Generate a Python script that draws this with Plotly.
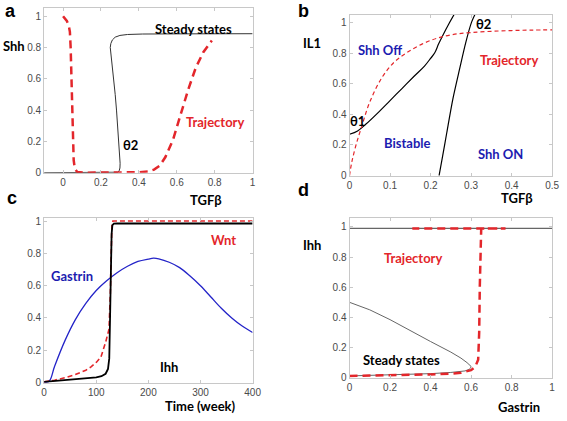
import plotly.graph_objects as go

# ---------------- data ----------------
# Panel a: steady states and trajectory (TGFb vs Shh)
a_ss_tgfb = [-0.1, 0.27, 0.288, 0.296, 0.300, 0.301, 0.299, 0.292, 0.287, 0.282, 0.275, 0.267, 0.259, 0.251, 0.249,
             0.252, 0.26, 0.275, 0.30, 0.34, 0.42, 0.6, 0.8, 1.0]
a_ss_shh = [0.0, 0.0, 0.003, 0.012, 0.03, 0.06, 0.1, 0.2, 0.3, 0.4, 0.5, 0.6, 0.7, 0.78, 0.80,
            0.825, 0.848, 0.866, 0.877, 0.883, 0.886, 0.887, 0.888, 0.888]
a_tr_tgfb = [0.0, 0.02, 0.03, 0.036, 0.04, 0.044, 0.048, 0.052, 0.056, 0.062, 0.075, 0.12, 0.2, 0.3, 0.4, 0.45,
             0.48, 0.51, 0.54, 0.58, 0.62, 0.66, 0.70, 0.74, 0.785]
a_tr_shh = [1.0, 0.97, 0.94, 0.9, 0.8, 0.6, 0.4, 0.2, 0.08, 0.025, 0.005, 0.0, 0.0, 0.0, 0.003, 0.008,
            0.02, 0.045, 0.1, 0.21, 0.37, 0.53, 0.67, 0.77, 0.845]

# Panel b: bifurcation curves (TGFb vs IL1) and trajectory
b_th1_tgfb = [0.0, 0.02, 0.04, 0.07, 0.1, 0.13, 0.16, 0.185, 0.2, 0.21, 0.22, 0.232, 0.245, 0.26]
b_th1_il1 = [0.27, 0.292, 0.335, 0.41, 0.49, 0.57, 0.65, 0.715, 0.765, 0.8, 0.86, 0.925, 0.99, 1.06]
b_th2_tgfb = [0.221, 0.23, 0.24, 0.255, 0.272, 0.287, 0.301, 0.311]
b_th2_il1 = [0.0, 0.13, 0.28, 0.5, 0.7, 0.87, 1.0, 1.06]
b_tr_tgfb = [0.0, 0.005, 0.015, 0.03, 0.05, 0.08, 0.11, 0.14, 0.18, 0.22, 0.26, 0.3, 0.35, 0.4, 0.45, 0.5]
b_tr_il1 = [0.0, 0.08, 0.19, 0.32, 0.48, 0.64, 0.74, 0.80, 0.86, 0.9, 0.923, 0.934, 0.942, 0.947, 0.95, 0.951]

# Panel c: time courses
c_time = [0, 10, 20, 40, 60, 80, 100, 120, 140, 160, 180, 200, 210, 220, 240, 260, 280, 300, 320, 340, 360, 380, 400]
c_gastrin = [0.0, 0.01, 0.1, 0.26, 0.39, 0.49, 0.57, 0.63, 0.68, 0.72, 0.75, 0.765, 0.77, 0.766, 0.745, 0.712,
             0.66, 0.6, 0.53, 0.46, 0.40, 0.35, 0.31]
c_ihh_time = [0, 20, 50, 80, 100, 110, 118, 122.6, 125, 126.5, 128, 129.5, 131, 134, 140, 200, 300, 400]
c_ihh = [0.005, 0.01, 0.016, 0.025, 0.033, 0.04, 0.055, 0.085, 0.15, 0.4, 0.7, 0.92, 0.975, 0.984, 0.985, 0.985, 0.985, 0.985]
c_wnt_time = [0, 20, 40, 60, 80, 90, 100, 109, 118, 124.5, 127, 128.5, 130, 132, 140, 200, 300, 400]
c_wnt = [0.005, 0.015, 0.03, 0.05, 0.077, 0.097, 0.125, 0.158, 0.25, 0.33, 0.55, 0.85, 0.97, 1.0, 1.0, 1.0, 1.0, 1.0]

# Panel d: steady states and trajectory (Gastrin vs Ihh)
d_hi_gastrin = [0.0, 1.0]
d_hi_ihh = [0.99, 0.99]
d_ss_gastrin = [0.0, 0.1, 0.2, 0.3, 0.4, 0.5, 0.55, 0.58, 0.595, 0.6, 0.598, 0.59, 0.57, 0.5, 0.4, 0.3, 0.2, 0.1, 0.0]
d_ss_ihh = [0.5, 0.45, 0.385, 0.31, 0.24, 0.17, 0.13, 0.1, 0.085, 0.075, 0.065, 0.055, 0.045, 0.035, 0.027,
            0.022, 0.018, 0.015, 0.012]
d_tr_gastrin = [0.0, 0.1, 0.2, 0.3, 0.4, 0.5, 0.55, 0.6, 0.62, 0.635, 0.64, 0.643, 0.646, 0.65, 0.7, 0.77,
                0.7, 0.6, 0.5, 0.4, 0.31]
d_tr_ihh = [0.012, 0.014, 0.016, 0.019, 0.022, 0.027, 0.033, 0.05, 0.07, 0.12, 0.3, 0.6, 0.85, 0.99, 0.99, 0.99,
            0.99, 0.99, 0.99, 0.99, 0.99]

# ---------------- style ----------------
RED = "#e3262b"
BLUE = "#2424c8"
TXT_BLUE = "#1c1cb0"
LBL_FONT = dict(family="Lato", size=13, color="black", weight="bold")

W, H = 567, 421

def dom_x(l, r):
    return [l / W, r / W]

def dom_y(t, b):
    return [1 - b / H, 1 - t / H]

fig = go.Figure()

# panel a
fig.add_trace(go.Scatter(x=a_ss_tgfb, y=a_ss_shh, mode="lines", line=dict(color="#333333", width=1),
                         xaxis="x", yaxis="y", showlegend=False))
fig.add_trace(go.Scatter(x=a_tr_tgfb, y=a_tr_shh, mode="lines", line=dict(color=RED, width=2.5, dash="8px,5px"),
                         xaxis="x", yaxis="y", showlegend=False))
# panel b
fig.add_trace(go.Scatter(x=b_th1_tgfb, y=b_th1_il1, mode="lines",
                         line=dict(color="black", width=1.2, shape="spline", smoothing=1.0),
                         xaxis="x2", yaxis="y2", showlegend=False))
fig.add_trace(go.Scatter(x=b_th2_tgfb, y=b_th2_il1, mode="lines",
                         line=dict(color="black", width=1.2, shape="spline", smoothing=0.8),
                         xaxis="x2", yaxis="y2", showlegend=False))
fig.add_trace(go.Scatter(x=b_tr_tgfb, y=b_tr_il1, mode="lines",
                         line=dict(color=RED, width=1.2, dash="4px,3px", shape="spline", smoothing=1.0),
                         xaxis="x2", yaxis="y2", showlegend=False))
# panel c
fig.add_trace(go.Scatter(x=c_time, y=c_gastrin, mode="lines",
                         line=dict(color=BLUE, width=1.3, shape="spline", smoothing=1.0),
                         xaxis="x3", yaxis="y3", showlegend=False))
fig.add_trace(go.Scatter(x=c_wnt_time, y=c_wnt, mode="lines", line=dict(color=RED, width=1.6, dash="5px,3px"),
                         xaxis="x3", yaxis="y3", showlegend=False))
fig.add_trace(go.Scatter(x=c_ihh_time, y=c_ihh, mode="lines", line=dict(color="black", width=1.8),
                         xaxis="x3", yaxis="y3", showlegend=False))
# panel d
fig.add_trace(go.Scatter(x=d_hi_gastrin, y=d_hi_ihh, mode="lines", line=dict(color="#666666", width=1.2),
                         xaxis="x4", yaxis="y4", showlegend=False))
fig.add_trace(go.Scatter(x=d_ss_gastrin, y=d_ss_ihh, mode="lines", line=dict(color="#666666", width=1),
                         xaxis="x4", yaxis="y4", showlegend=False))
fig.add_trace(go.Scatter(x=d_tr_gastrin, y=d_tr_ihh, mode="lines", line=dict(color=RED, width=2.5, dash="8px,5px"),
                         xaxis="x4", yaxis="y4", showlegend=False))

axis_common = dict(showline=True, mirror="ticks", linecolor="#c8c8c8", linewidth=1, ticks="inside", ticklen=3,
                   tickcolor="#c8c8c8", showgrid=False, zeroline=False,
                   tickfont=dict(family="Liberation Sans, Arial", size=10, color="#4a4a4a"))

yt = [0, 0.2, 0.4, 0.6, 0.8, 1]
ytl = ["0", "0.2", "0.4", "0.6", "0.8", "1"]

fig.update_layout(
    width=W, height=H, margin=dict(l=0, r=0, t=0, b=0),
    paper_bgcolor="white", plot_bgcolor="white", hovermode=False,
    xaxis=dict(axis_common, domain=dom_x(42, 255), range=[-0.1, 1], tickvals=yt, ticktext=ytl, anchor="y"),
    yaxis=dict(axis_common, domain=dom_y(6, 174), range=[0, 1.053], tickvals=yt, ticktext=ytl, anchor="x"),
    xaxis2=dict(axis_common, domain=dom_x(354, 561), range=[0, 0.5], tickvals=[0, 0.1, 0.2, 0.3, 0.4, 0.5],
                ticktext=["0", "0.1", "0.2", "0.3", "0.4", "0.5"], anchor="y2"),
    yaxis2=dict(axis_common, domain=dom_y(13, 177), range=[0, 1.05], tickvals=yt, ticktext=ytl, anchor="x2"),
    xaxis3=dict(axis_common, domain=dom_x(42, 255), range=[0, 400], tickvals=[0, 100, 200, 300, 400], anchor="y3"),
    yaxis3=dict(axis_common, domain=dom_y(220, 388), range=[0, 1.02], tickvals=yt, ticktext=ytl, anchor="x3"),
    xaxis4=dict(axis_common, domain=dom_x(354, 561), range=[0, 1], tickvals=yt, ticktext=ytl, anchor="y4"),
    yaxis4=dict(axis_common, domain=dom_y(220, 383), range=[0, 1.06], tickvals=yt, ticktext=ytl, anchor="x4"),
)

# axis labels and panel letters (paper coordinates from pixel positions)
def ptxt(text, px, py, font, xanchor="center"):
    fig.add_annotation(text=text, x=px / W, y=1 - py / H, xref="paper", yref="paper", showarrow=False,
                       xanchor=xanchor, yanchor="middle", font=font)

LETTER = dict(family="Liberation Sans, Arial", size=18, color="black", weight="bold")
ptxt("a", 8, 9, LETTER)
ptxt("b", 307, 9, LETTER)
ptxt("c", 9, 200, LETTER)
ptxt("d", 307, 192, LETTER)

ptxt("Shh", 11, 45, LBL_FONT)
ptxt("TGFβ", 207, 202, LBL_FONT)
ptxt("IL1", 316, 42, LBL_FONT)
ptxt("TGFβ", 525, 200, LBL_FONT)
ptxt("Time (week)", 202, 412, LBL_FONT)
ptxt("Ihh", 316, 248, LBL_FONT)
ptxt("Gastrin", 527, 413, LBL_FONT)

# in-plot labels (data coordinates)
def dtxt(text, x, y, xref, yref, color):
    fig.add_annotation(text=text, x=x, y=y, xref=xref, yref=yref, showarrow=False,
                       font=dict(family="Lato", size=13, color=color, weight="bold"))

dtxt("Steady states", 0.688, 0.92, "x", "y", "black")
dtxt("θ2", 0.356, 0.18, "x", "y", "black")
dtxt("Trajectory", 0.804, 0.326, "x", "y", RED)

dtxt("Shh Off", 0.075, 0.817, "x2", "y2", TXT_BLUE)
dtxt("θ1", 0.020, 0.359, "x2", "y2", "black")
dtxt("Bistable", 0.143, 0.21, "x2", "y2", TXT_BLUE)
dtxt("Shh ON", 0.373, 0.139, "x2", "y2", TXT_BLUE)
dtxt("Trajectory", 0.393, 0.754, "x2", "y2", RED)
dtxt("θ2", 0.330, 0.987, "x2", "y2", "black")

dtxt("Wnt", 345, 0.882, "x3", "y3", RED)
dtxt("Gastrin", 54, 0.661, "x3", "y3", TXT_BLUE)
dtxt("Ihh", 239, 0.097, "x3", "y3", "black")

dtxt("Trajectory", 0.312, 0.794, "x4", "y4", RED)
dtxt("Steady states", 0.258, 0.119, "x4", "y4", "black")

# remove the default page margin so the figure sits at the window's top-left corner
fig.write_html("out.html", config={"displayModeBar": False},
               post_script="document.body.style.margin='0';document.body.style.overflow='hidden';")
